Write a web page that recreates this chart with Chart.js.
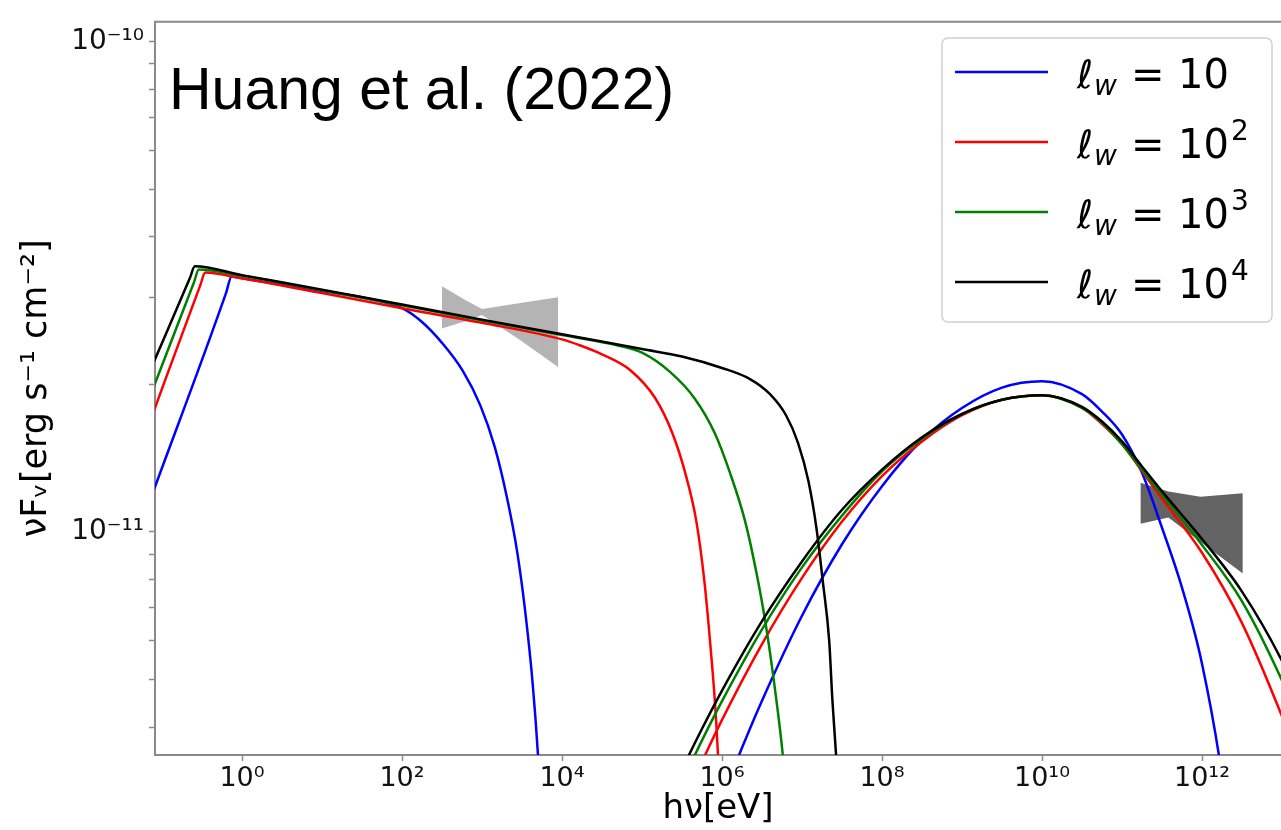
<!DOCTYPE html>
<html>
<head>
<meta charset="utf-8">
<script src="https://cdn.jsdelivr.net/npm/chart.js@4.4.0/dist/chart.umd.min.js"></script>
<style>
  html, body { margin: 0; padding: 0; background: #fff; overflow: hidden; }
</style>
</head>
<body>
<canvas id="sed" width="1281" height="830"></canvas>
<script>
// energies are log10(hν / eV), fluxes are νFν in erg s^-1 cm^-2
const seriesExp = ['', '2', '3', '4'];            // ℓw = 10^n
const seriesColors = ['#0000ff', '#ff0000', '#008000', '#000000'];
const noteText = 'Huang et al. (2022)';

// synchrotron bump
const blueSyncE  = [-1.15, -0.2, -0.13, 0, 1, 1.5, 2.0, 2.25, 2.5, 2.76, 2.98, 3.16, 3.31, 3.44, 3.54, 3.63, 3.7, 3.75];
const blueSyncF  = [1.16e-11, 3.07e-11, 3.32e-11, 3.29e-11, 3.10e-11, 3.01e-11, 2.86e-11, 2.68e-11, 2.43e-11, 2.13e-11, 1.81e-11, 1.49e-11, 1.18e-11, 9.11e-12, 6.89e-12, 4.98e-12, 3.51e-12, 2.48e-12];
const redSyncE   = [-1.15, -0.52, -0.46, 0, 1, 2, 3, 4, 4.23, 4.48, 4.85, 5.16, 5.38, 5.54, 5.68, 5.78, 5.85, 5.91, 5.95, 5.99];
const redSyncF   = [1.68e-11, 3.19e-11, 3.38e-11, 3.29e-11, 3.07e-11, 2.86e-11, 2.67e-11, 2.47e-11, 2.40e-11, 2.31e-11, 2.14e-11, 1.88e-11, 1.59e-11, 1.32e-11, 1.05e-11, 7.93e-12, 6.0e-12, 4.54e-12, 3.51e-12, 2.48e-12];
const greenSyncE = [-1.15, -0.6, -0.54, 0, 1, 2, 3, 4, 4.7, 5.0, 5.35, 5.66, 5.91, 6.1, 6.29, 6.44, 6.56, 6.68, 6.76, 6.84];
const greenSyncF = [1.89e-11, 3.23e-11, 3.43e-11, 3.33e-11, 3.11e-11, 2.90e-11, 2.70e-11, 2.52e-11, 2.40e-11, 2.32e-11, 2.12e-11, 1.87e-11, 1.59e-11, 1.32e-11, 1.05e-11, 8.11e-12, 6.28e-12, 4.54e-12, 3.51e-12, 2.48e-12];
const blackSyncE = [-1.15, -0.65, -0.59, 0, 1, 2, 3, 4, 5, 5.5, 6.0, 6.35, 6.6, 6.8, 6.95, 7.08, 7.18, 7.26, 7.34, 7.38, 7.43, 7.48];
const blackSyncF = [2.13e-11, 3.30e-11, 3.48e-11, 3.34e-11, 3.12e-11, 2.91e-11, 2.71e-11, 2.53e-11, 2.36e-11, 2.28e-11, 2.16e-11, 2.05e-11, 1.91e-11, 1.73e-11, 1.52e-11, 1.27e-11, 1.02e-11, 7.93e-12, 6.0e-12, 4.54e-12, 3.43e-12, 2.48e-12];

// inverse Compton bump
const blueIcE  = [6.0, 6.25, 6.5, 7.0, 7.5, 8.0, 8.5, 9.0, 9.5, 10.0, 10.5, 10.75, 11.0, 11.25, 11.5, 11.75, 12.0, 12.25, 12.4];
const blueIcF  = [2.86e-12, 3.63e-12, 4.53e-12, 6.75e-12, 9.44e-12, 1.24e-11, 1.54e-11, 1.79e-11, 1.97e-11, 2.03e-11, 1.91e-11, 1.76e-11, 1.58e-11, 1.32e-11, 1.02e-11, 7.70e-12, 5.39e-12, 3.18e-12, 1.96e-12];
const redIcE   = [5.6, 5.75, 6.0, 6.5, 7.0, 7.5, 8.0, 8.5, 9.0, 9.5, 10.0, 10.5, 10.75, 11.0, 11.25, 11.5, 12.0, 12.5, 13.0, 13.25];
const redIcF   = [3.00e-12, 3.40e-12, 4.14e-12, 5.91e-12, 8.06e-12, 1.05e-11, 1.30e-11, 1.53e-11, 1.73e-11, 1.86e-11, 1.90e-11, 1.79e-11, 1.66e-11, 1.51e-11, 1.33e-11, 1.17e-11, 9.07e-12, 6.52e-12, 4.21e-12, 3.28e-12];
const greenIcE = [5.5, 5.75, 6.0, 6.5, 7.0, 7.5, 8.0, 8.5, 9.0, 9.5, 10.0, 10.5, 10.75, 11.0, 11.25, 11.5, 12.0, 12.5, 13.0, 13.25];
const greenIcF = [3.09e-12, 3.76e-12, 4.52e-12, 6.33e-12, 8.47e-12, 1.08e-11, 1.33e-11, 1.55e-11, 1.74e-11, 1.86e-11, 1.90e-11, 1.79e-11, 1.67e-11, 1.51e-11, 1.34e-11, 1.19e-11, 9.41e-12, 7.22e-12, 4.98e-12, 3.98e-12];
const blackIcE = [5.4, 5.75, 6.0, 6.5, 7.0, 7.5, 8.0, 8.5, 9.0, 9.5, 10.0, 10.5, 10.75, 11.0, 11.25, 11.5, 12.0, 12.5, 13.0, 13.25];
const blackIcF = [3.04e-12, 3.97e-12, 4.75e-12, 6.58e-12, 8.71e-12, 1.11e-11, 1.34e-11, 1.56e-11, 1.74e-11, 1.86e-11, 1.90e-11, 1.80e-11, 1.68e-11, 1.53e-11, 1.36e-11, 1.21e-11, 9.68e-12, 7.56e-12, 5.46e-12, 4.43e-12];

// observed butterflies (X-ray and gamma-ray)
const xrayE = [2.5, 2.79, 3.0, 3.48, 3.95];
const xrayHigh = [3.17e-11, 2.97e-11, 2.85e-11, 2.93e-11, 3.01e-11];
const xrayLow  = [2.60e-11, 2.69e-11, 2.77e-11, 2.46e-11, 2.17e-11];
const gammaE = [11.23, 11.58, 11.98, 12.51];
const gammaHigh = [1.26e-11, 1.21e-11, 1.18e-11, 1.20e-11];
const gammaLow  = [1.04e-11, 1.07e-11, 9.55e-12, 8.23e-12];

// axes
const xMinExp = -1.0875, xMaxExp = 12.9875;
const yMin = 3.51e-12, yMax = 1.097e-10;
const xTickExp = [0, 2, 4, 6, 8, 10, 12];
const xTickLabels = ['10⁰', '10²', '10⁴', '10⁶', '10⁸', '10¹⁰', '10¹²'];
const yTickValues = [4e-12, 5e-12, 6e-12, 7e-12, 8e-12, 9e-12, 1e-11, 2e-11, 3e-11, 4e-11, 5e-11, 6e-11, 7e-11, 8e-11, 9e-11, 1e-10];
const yTickLabels = ['', '', '', '', '', '', '10⁻¹¹', '', '', '', '', '', '', '', '', '10⁻¹⁰'];

const spineColor = '#8a8a8a';

const pts = (E, F) => E.map((e, i) => ({ x: 10 ** e, y: F[i] }));

const curve = (E, F, color, order) => ({
  data: pts(E, F),
  borderColor: color,
  borderWidth: 2.5,
  pointRadius: 0,
  cubicInterpolationMode: 'monotone',
  fill: false,
  order: order
});

const band = (E, F, fill, color) => ({
  data: pts(E, F),
  borderWidth: 0,
  borderColor: 'rgba(0,0,0,0)',
  pointRadius: 0,
  tension: 0,
  fill: fill,
  backgroundColor: color,
  order: 10
});

const decor = {
  id: 'decor',
  afterDraw(chart) {
    const { ctx, chartArea: a } = chart;
    ctx.save();

    // top spine (the right one is cut off in the figure)
    ctx.strokeStyle = spineColor;
    ctx.lineWidth = 2;
    ctx.beginPath();
    ctx.moveTo(a.left - 1, a.top);
    ctx.lineTo(a.right, a.top);
    ctx.stroke();

    ctx.fillStyle = '#000';
    ctx.textBaseline = 'alphabetic';
    ctx.textAlign = 'left';
    ctx.font = '59px "Liberation Sans", Arial, sans-serif';
    ctx.fillText(noteText, 169, 109);

    // legend box
    ctx.fillStyle = 'rgba(255,255,255,0.85)';
    ctx.strokeStyle = '#d0d0d0';
    ctx.lineWidth = 1.5;
    ctx.beginPath();
    ctx.roundRect(942, 38, 330, 284, 6);
    ctx.fill();
    ctx.stroke();

    seriesColors.forEach((c, i) => {
      const y = 72 + i * 70;
      ctx.strokeStyle = c;
      ctx.lineWidth = 2.5;
      ctx.beginPath();
      ctx.moveTo(955, y);
      ctx.lineTo(1048, y);
      ctx.stroke();

      ctx.fillStyle = '#000';
      ctx.font = 'italic 39px "DejaVu Sans"';
      ctx.fillText('ℓ', 1077, y + 16);
      ctx.font = 'italic 28px "DejaVu Sans"';
      ctx.fillText('w', 1094, y + 23);
      ctx.font = '40px "DejaVu Sans"';
      ctx.fillText('=', 1131, y + 16);
      ctx.fillText('10', 1178, y + 16);
      const w = ctx.measureText('10').width;
      ctx.font = '28px "DejaVu Sans"';
      ctx.fillText(seriesExp[i], 1178 + w + 2, y - 2);
    });

    ctx.restore();
  }
};

Chart.defaults.font.family = '"DejaVu Sans", sans-serif';
Chart.defaults.color = '#111';

new Chart(document.getElementById('sed'), {
  type: 'line',
  data: {
    datasets: [
      band(xrayE, xrayHigh, '+1', '#b4b4b4'),
      band(xrayE, xrayLow, false, '#b4b4b4'),
      band(gammaE, gammaHigh, '+1', '#636363'),
      band(gammaE, gammaLow, false, '#636363'),
      curve(blueSyncE, blueSyncF, seriesColors[0], 4),
      curve(blueIcE, blueIcF, seriesColors[0], 4),
      curve(redSyncE, redSyncF, seriesColors[1], 3),
      curve(redIcE, redIcF, seriesColors[1], 3),
      curve(greenSyncE, greenSyncF, seriesColors[2], 2),
      curve(greenIcE, greenIcF, seriesColors[2], 2),
      curve(blackSyncE, blackSyncF, seriesColors[3], 1),
      curve(blackIcE, blackIcF, seriesColors[3], 1)
    ]
  },
  options: {
    responsive: false,
    animation: false,
    layout: { padding: { top: 15, right: 0, bottom: 0, left: 0 } },
    plugins: {
      legend: { display: false },
      tooltip: { enabled: false }
    },
    scales: {
      x: {
        type: 'logarithmic',
        bounds: 'data',
        min: 10 ** xMinExp,
        max: 10 ** xMaxExp,
        afterBuildTicks: s => { s.ticks = xTickExp.map(e => ({ value: 10 ** e })); },
        afterFit: s => { s.height = 75; },
        ticks: {
          autoSkip: false, maxRotation: 0, padding: 2,
          font: { size: 27 },
          callback: (v, i) => xTickLabels[i]
        },
        grid: { drawOnChartArea: false, drawTicks: true, tickLength: 6, tickColor: spineColor, tickWidth: 1.5 },
        border: { display: true, color: spineColor, width: 2 },
        title: { display: true, text: 'hν[eV]', font: { size: 34 }, color: '#000', padding: { top: 0, bottom: 0 } }
      },
      y: {
        type: 'logarithmic',
        bounds: 'data',
        min: yMin,
        max: yMax,
        afterBuildTicks: s => { s.ticks = yTickValues.map(v => ({ value: v })); },
        afterFit: s => { s.width = 155; },
        ticks: {
          autoSkip: false, padding: 5,
          font: { size: 28 },
          callback: (v, i) => yTickLabels[i]
        },
        grid: { drawOnChartArea: false, drawTicks: true, tickLength: 6, tickColor: spineColor, tickWidth: 1.5 },
        border: { display: true, color: spineColor, width: 2 },
        title: { display: true, text: 'νFᵥ[erg s⁻¹ cm⁻²]', font: { size: 35 }, color: '#000', padding: { top: 16, bottom: 0 } }
      }
    }
  },
  plugins: [decor]
});
</script>
</body>
</html>
